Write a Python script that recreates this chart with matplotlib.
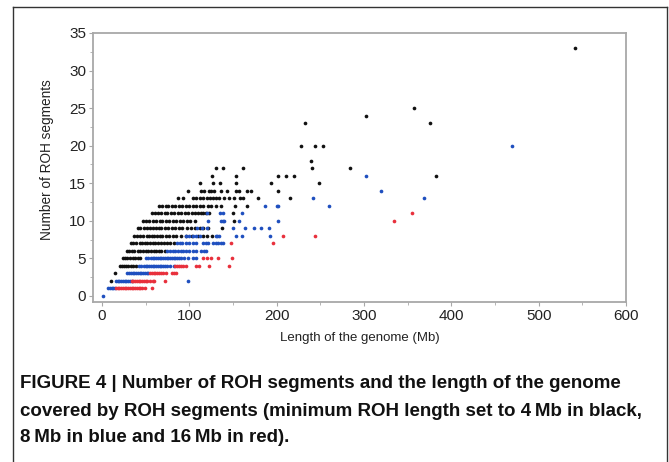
import matplotlib
matplotlib.use('Agg')
import matplotlib.pyplot as plt
from matplotlib.lines import Line2D
from matplotlib.ticker import MultipleLocator

# ROH segments: x = length of genome covered (Mb), y = number of segments
black_x = [10, 15,
           21, 23, 25, 28, 30, 33, 36, 39,
           24, 26, 29, 32, 35, 38, 41, 43,
           29, 31, 34, 37, 41, 44, 47, 50, 53, 56, 59, 62, 65, 68, 72,
           33, 36, 39, 43, 46, 49, 52, 55, 58, 61, 64, 68, 71, 75, 78, 82,
           37, 40, 44, 47, 51, 54, 57, 60, 63, 66, 69, 73, 77, 81, 85, 90, 96, 103, 110, 116, 120, 126,
           41, 44, 48, 52, 55, 58, 62, 65, 68, 72, 76, 80, 84, 88, 92, 97, 102, 107, 112, 116, 121, 137,
           47, 50, 54, 58, 62, 66, 69, 73, 77, 81, 85, 89, 93, 97, 101, 106, 151,
           57, 61, 64, 68, 72, 75, 79, 83, 87, 91, 95, 99, 103, 107, 110, 113, 116, 119, 123, 150,
           65, 69, 73, 76, 80, 84, 88, 92, 96, 100, 104, 108, 112, 116, 121, 125, 130, 136, 152, 166,
           87, 93, 104, 108, 112, 116, 120, 124, 127, 130, 134, 140, 145, 151, 158, 161, 179, 215,
           98, 113, 117, 122, 125, 128, 136, 143, 154, 157, 166, 171, 202,
           112, 127, 135, 154, 193, 248,
           126, 154, 201, 211, 220, 383,
           131, 138, 161, 240, 284,
           239,
           228, 244, 253,
           233, 376,
           302,
           357,
           542]
black_y = [2, 3,
           4, 4, 4, 4, 4, 4, 4, 4,
           5, 5, 5, 5, 5, 5, 5, 5,
           6, 6, 6, 6, 6, 6, 6, 6, 6, 6, 6, 6, 6, 6, 6,
           7, 7, 7, 7, 7, 7, 7, 7, 7, 7, 7, 7, 7, 7, 7, 7,
           8, 8, 8, 8, 8, 8, 8, 8, 8, 8, 8, 8, 8, 8, 8, 8, 8, 8, 8, 8, 8, 8,
           9, 9, 9, 9, 9, 9, 9, 9, 9, 9, 9, 9, 9, 9, 9, 9, 9, 9, 9, 9, 9, 9,
           10, 10, 10, 10, 10, 10, 10, 10, 10, 10, 10, 10, 10, 10, 10, 10, 10,
           11, 11, 11, 11, 11, 11, 11, 11, 11, 11, 11, 11, 11, 11, 11, 11, 11, 11, 11, 11,
           12, 12, 12, 12, 12, 12, 12, 12, 12, 12, 12, 12, 12, 12, 12, 12, 12, 12, 12, 12,
           13, 13, 13, 13, 13, 13, 13, 13, 13, 13, 13, 13, 13, 13, 13, 13, 13, 13,
           14, 14, 14, 14, 14, 14, 14, 14, 14, 14, 14, 14, 14,
           15, 15, 15, 15, 15, 15,
           16, 16, 16, 16, 16, 16,
           17, 17, 17, 17, 17,
           18,
           20, 20, 20,
           23, 23,
           24,
           25,
           33]

blue_x = [1,
          7, 9, 11, 13, 15,
          16, 18, 20, 22, 24, 26, 28, 30, 32, 34, 99,
          29, 31, 33, 35, 37, 39, 41, 43, 45, 47, 49, 51, 53,
          42, 45, 48, 50, 52, 54, 56, 58, 60, 62, 64, 66, 68, 70, 72, 75, 78, 82,
          50, 53, 56, 58, 60, 62, 64, 66, 68, 70, 72, 74, 76, 78, 80, 82, 84, 86, 88, 91, 94, 98, 104, 108,
          75, 78, 81, 84, 87, 90, 93, 96, 100, 104, 108, 113, 117, 119,
          86, 89, 92, 96, 100, 104, 108, 116, 119, 121, 127, 130, 133, 136, 139,
          96, 100, 104, 108, 112, 130, 132, 134, 153, 160, 192,
          109, 114, 120, 150, 164, 174, 182, 191,
          121, 136, 138, 140, 157, 202,
          120, 135, 139, 160,
          187, 200, 202, 260,
          242, 369,
          320,
          302,
          469]
blue_y = [0,
          1, 1, 1, 1, 1,
          2, 2, 2, 2, 2, 2, 2, 2, 2, 2, 2,
          3, 3, 3, 3, 3, 3, 3, 3, 3, 3, 3, 3, 3,
          4, 4, 4, 4, 4, 4, 4, 4, 4, 4, 4, 4, 4, 4, 4, 4, 4, 4,
          5, 5, 5, 5, 5, 5, 5, 5, 5, 5, 5, 5, 5, 5, 5, 5, 5, 5, 5, 5, 5, 5, 5, 5,
          6, 6, 6, 6, 6, 6, 6, 6, 6, 6, 6, 6, 6, 6,
          7, 7, 7, 7, 7, 7, 7, 7, 7, 7, 7, 7, 7, 7, 7,
          8, 8, 8, 8, 8, 8, 8, 8, 8, 8, 8,
          9, 9, 9, 9, 9, 9, 9, 9,
          10, 10, 10, 10, 10, 10,
          11, 11, 11, 11,
          12, 12, 12, 12,
          13, 13,
          14,
          16,
          20]

red_x = [16, 18, 20, 22, 24, 26, 28, 30, 32, 34, 36, 38, 40, 42, 44, 46, 49, 57,
         34, 36, 38, 40, 42, 44, 46, 48, 50, 52, 55, 58, 60, 72,
         55, 57, 59, 61, 63, 65, 67, 70, 73, 80, 82, 85,
         84, 86, 88, 90, 93, 96, 108, 111, 122, 145,
         116, 120, 125, 133, 149,
         148, 196,
         207, 244,
         334,
         355]
red_y = [1, 1, 1, 1, 1, 1, 1, 1, 1, 1, 1, 1, 1, 1, 1, 1, 1, 1,
         2, 2, 2, 2, 2, 2, 2, 2, 2, 2, 2, 2, 2, 2,
         3, 3, 3, 3, 3, 3, 3, 3, 3, 3, 3, 3,
         4, 4, 4, 4, 4, 4, 4, 4, 4, 4,
         5, 5, 5, 5, 5,
         7, 7,
         8, 8,
         10,
         11]

caption = ["FIGURE 4 | Number of ROH segments and the length of the genome",
           "covered by ROH segments (minimum ROH length set to 4\u2009Mb in black,",
           "8\u2009Mb in blue and 16\u2009Mb in red)."]

W, H = 669, 462
fig = plt.figure(figsize=(W / 100, H / 100), dpi=100)
plt.rcParams['font.family'] = ['Liberation Sans', 'DejaVu Sans']

ax = fig.add_axes([93 / W, 1 - 302 / H, (626 - 93) / W, (302 - 33) / H])
ax.scatter(black_x, black_y, s=7, color='#111111', linewidths=0)
ax.scatter(blue_x, blue_y, s=7, color='#1f4fbf', linewidths=0)
ax.scatter(red_x, red_y, s=7, color='#e8303c', linewidths=0)

ax.set_xlim(-10.3, 600)
ax.set_ylim(-0.8, 35)
ax.set_xticks([0, 100, 200, 300, 400, 500, 600])
ax.set_yticks([0, 5, 10, 15, 20, 25, 30, 35])
ax.xaxis.set_minor_locator(MultipleLocator(50))
ax.yaxis.set_minor_locator(MultipleLocator(2.5))
for sp in ax.spines.values():
    sp.set_color('#a8a8a8')
    sp.set_linewidth(1.3)
ax.tick_params(which='both', direction='out', color='#a8a8a8', labelsize=11,
               labelcolor='#222222', pad=2)
ax.tick_params(which='major', length=3)
ax.tick_params(which='minor', length=2)

ax.set_xlabel('Length of the genome (Mb)', fontsize=9.5, color='#222222')
ax.xaxis.set_label_coords(0.5, -(338 - 302) / (302 - 33), transform=ax.transAxes)
ax.xaxis.label.set_va('center')
ax.set_ylabel('Number of ROH segments', fontsize=9.8, color='#222222')
ax.yaxis.set_label_coords((46.7 - 93) / (626 - 93), (302 - 160) / (302 - 33))
ax.yaxis.label.set_va('center')

# caption, bold
for i, line in enumerate(caption):
    yy = [383, 411, 437][i]
    fig.text(20 / W, 1 - yy / H, line, fontsize=13.5, fontweight='bold',
             va='center', ha='left', color='#111111')

# frame around the figure panel
fig.add_artist(Line2D([13 / W, 13 / W], [0, 1 - 7 / H], color='#333333', lw=1))
fig.add_artist(Line2D([13 / W, 667 / W], [1 - 7 / H, 1 - 7 / H], color='#333333', lw=1))
fig.add_artist(Line2D([667 / W, 667 / W], [0, 1 - 7 / H], color='#333333', lw=1))

fig.savefig('out.png', dpi=100)
